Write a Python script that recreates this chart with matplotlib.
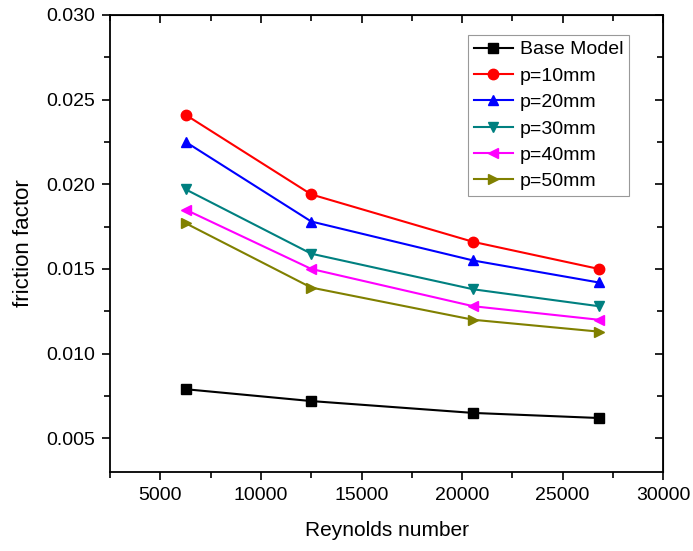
import matplotlib
matplotlib.use('Agg')
import matplotlib.pyplot as plt
from matplotlib.ticker import MultipleLocator

plt.rcParams['font.family'] = ['Liberation Sans', 'DejaVu Sans']

# Data
reynolds = [6250, 12500, 20550, 26800]
series_names = ['Base Model', 'p=10mm', 'p=20mm', 'p=30mm', 'p=40mm', 'p=50mm']
base_model = [0.0079, 0.0072, 0.0065, 0.0062]
p10 = [0.0241, 0.0194, 0.0166, 0.0150]
p20 = [0.0225, 0.0178, 0.0155, 0.0142]
p30 = [0.0197, 0.0159, 0.0138, 0.0128]
p40 = [0.0185, 0.0150, 0.0128, 0.0120]
p50 = [0.0177, 0.0139, 0.0120, 0.0113]

colors = ['black', '#ff0000', '#0000ff', '#008080', '#ff00ff', '#808000']
markers = ['s', 'o', '^', 'v', '<', '>']

fig = plt.figure(figsize=(6.93, 5.51), dpi=100)
ax = fig.add_axes([0.159, 0.143, 0.798, 0.830])

for name, ys, c, m in zip(series_names, [base_model, p10, p20, p30, p40, p50], colors, markers):
    ax.plot(reynolds, ys, color=c, marker=m, markersize=7.5, linewidth=1.5, label=name)

ax.set_xlim(2500, 30000)
ax.set_ylim(0.003, 0.030)
ax.xaxis.set_major_locator(MultipleLocator(5000))
ax.xaxis.set_minor_locator(MultipleLocator(2500))
ax.yaxis.set_major_locator(MultipleLocator(0.005))
ax.yaxis.set_minor_locator(MultipleLocator(0.0025))
ax.yaxis.set_major_formatter(plt.FormatStrFormatter('%.3f'))
ax.tick_params(which='major', direction='out', length=6, width=1.2, labelsize=14, pad=5)
ax.tick_params(which='minor', direction='out', length=4, width=1.2)
for s in ax.spines.values():
    s.set_linewidth(1.3)

ax.set_xlabel('Reynolds number', fontsize=15, labelpad=12)
ax.set_ylabel('friction factor', fontsize=16, labelpad=9)

# inward ticks on top and right
top = ax.secondary_xaxis('top')
top.xaxis.set_major_locator(MultipleLocator(5000))
top.xaxis.set_minor_locator(MultipleLocator(2500))
top.tick_params(which='major', direction='in', length=6, width=1.2, labeltop=False)
top.tick_params(which='minor', direction='in', length=4, width=1.2)
right = ax.secondary_yaxis('right')
right.yaxis.set_major_locator(MultipleLocator(0.005))
right.yaxis.set_minor_locator(MultipleLocator(0.0025))
right.tick_params(which='major', direction='in', length=6, width=1.2, labelright=False)
right.tick_params(which='minor', direction='in', length=4, width=1.2)

leg = ax.legend(loc='upper left', bbox_to_anchor=(0.647, 0.956), borderaxespad=0,
                fontsize=14, handlelength=2.0, handletextpad=0.35, labelspacing=0.45,
                fancybox=False, framealpha=1, borderpad=0.3)
leg.get_frame().set_edgecolor('#999999')
leg.get_frame().set_linewidth(0.8)

fig.savefig('out.png', dpi=100)
